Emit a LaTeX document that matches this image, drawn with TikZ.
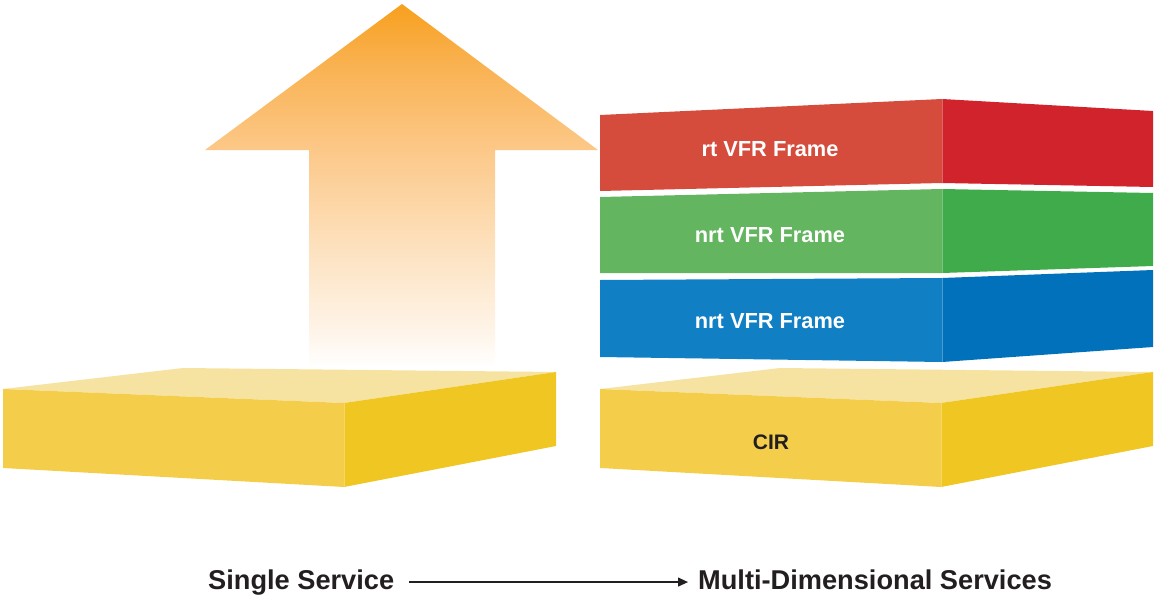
\documentclass[tikz,border=0pt]{standalone}
\usepackage{fontspec}
\setmainfont{Liberation Sans}
\usepackage{xcolor}
\usetikzlibrary{arrows.meta,positioning}

\definecolor{slabfront}{HTML}{F4CE4B}
\definecolor{slabside}{HTML}{F0C622}
\definecolor{slabtop}{HTML}{F7E3A1}
\definecolor{rtfront}{HTML}{D54C3C}
\definecolor{rtside}{HTML}{D0232B}
\definecolor{nrtafront}{HTML}{63B55F}
\definecolor{nrtaside}{HTML}{40AB4A}
\definecolor{nrtbfront}{HTML}{107FC4}
\definecolor{nrtbside}{HTML}{0071BA}
\definecolor{inkdark}{HTML}{231F20}
\definecolor{grow0}{HTML}{FEF4E8}
\definecolor{grow1}{HTML}{FDE2C0}
\definecolor{grow2}{HTML}{FCC888}
\definecolor{grow3}{HTML}{F9B14F}
\definecolor{grow4}{HTML}{F7A01E}

\pgfdeclareverticalshading{growth}{100bp}{
  color(0bp)=(white); color(25bp)=(white); color(30bp)=(grow0);
  color(41bp)=(grow1); color(55bp)=(grow2); color(67bp)=(grow3);
  color(75bp)=(grow4); color(100bp)=(grow4)}

\begin{document}
\begin{tikzpicture}[
    x=1pt, y=-1pt,
    >=Stealth,
    seam/.style={white, opacity=0.3, line width=0.8pt},
    framelbl/.style={text=white, font=\fontsize{21.8}{26}\selectfont\bfseries, inner sep=0pt},
    cirlbl/.style={text=inkdark, font=\fontsize{21}{25}\selectfont\bfseries, inner sep=0pt},
    caption/.style={text=inkdark, font=\fontsize{27.2}{32}\selectfont\bfseries, inner sep=0pt,
        text height=19.6pt, text depth=5.7pt},
    flow/.style={draw=inkdark, line width=1.2pt, -{Triangle[length=10pt,width=9pt]}},
]
\useasboundingbox (0,0) rectangle (1154,597);

% ========== Growth arrow ==========
\shade[shading=growth] (402,4) -- (598,150) -- (495,150) -- (495,367)
    -- (309,367) -- (309,150) -- (205,150) -- cycle;

% ========== Base slabs (same block twice) ==========
\foreach \nm/\dx in {base/0, cirbase/597} {
  \begin{scope}[xshift=\dx]
    \fill[slabtop] (3,389) -- (183,368) -- (556,372) -- (344,403) -- cycle;
    \fill[slabfront] (3,389) -- (344,403) -- (344,487) -- (3,468) -- cycle;
    \fill[slabside] (344,403) -- (556,372) -- (556,446) -- (344,487) -- cycle;
    \draw[seam] (344,403) -- (344,487);
  \end{scope}
}
\node[cirlbl] (cir) at (771,442) {CIR};

% ========== VFR frames ==========
\foreach \nm/\lab/\fc/\sc/\ya/\yb/\yc/\yd/\ye/\yf in {
    rt/rt VFR Frame/rtfront/rtside/115/99/111/191/183/187,
    nrta/nrt VFR Frame/nrtafront/nrtaside/197/189/193/273/273/266,
    nrtb/nrt VFR Frame/nrtbfront/nrtbside/280/278/270/357/362/347} {
    \fill[\fc] (600,\ya) -- (942,\yb) -- (942,\ye) -- (600,\yd) -- cycle;
    \fill[\sc] (942,\yb) -- (1153,\yc) -- (1153,\yf) -- (942,\ye) -- cycle;
    \draw[seam] (942,\yb) -- (942,\ye);
    \node[framelbl] (\nm) at (770,{(\ya+\yb+\yd+\ye)/4+2}) {\lab};
}

% ========== Caption ==========
\node[caption, anchor=base west] (single) at (208,589) {Single Service};
\node[caption, anchor=base west] (multi) at (698,589) {Multi-Dimensional Services};
\draw[flow, shorten <=15pt, shorten >=10pt] (single) -- (multi);

\end{tikzpicture}
\end{document}
